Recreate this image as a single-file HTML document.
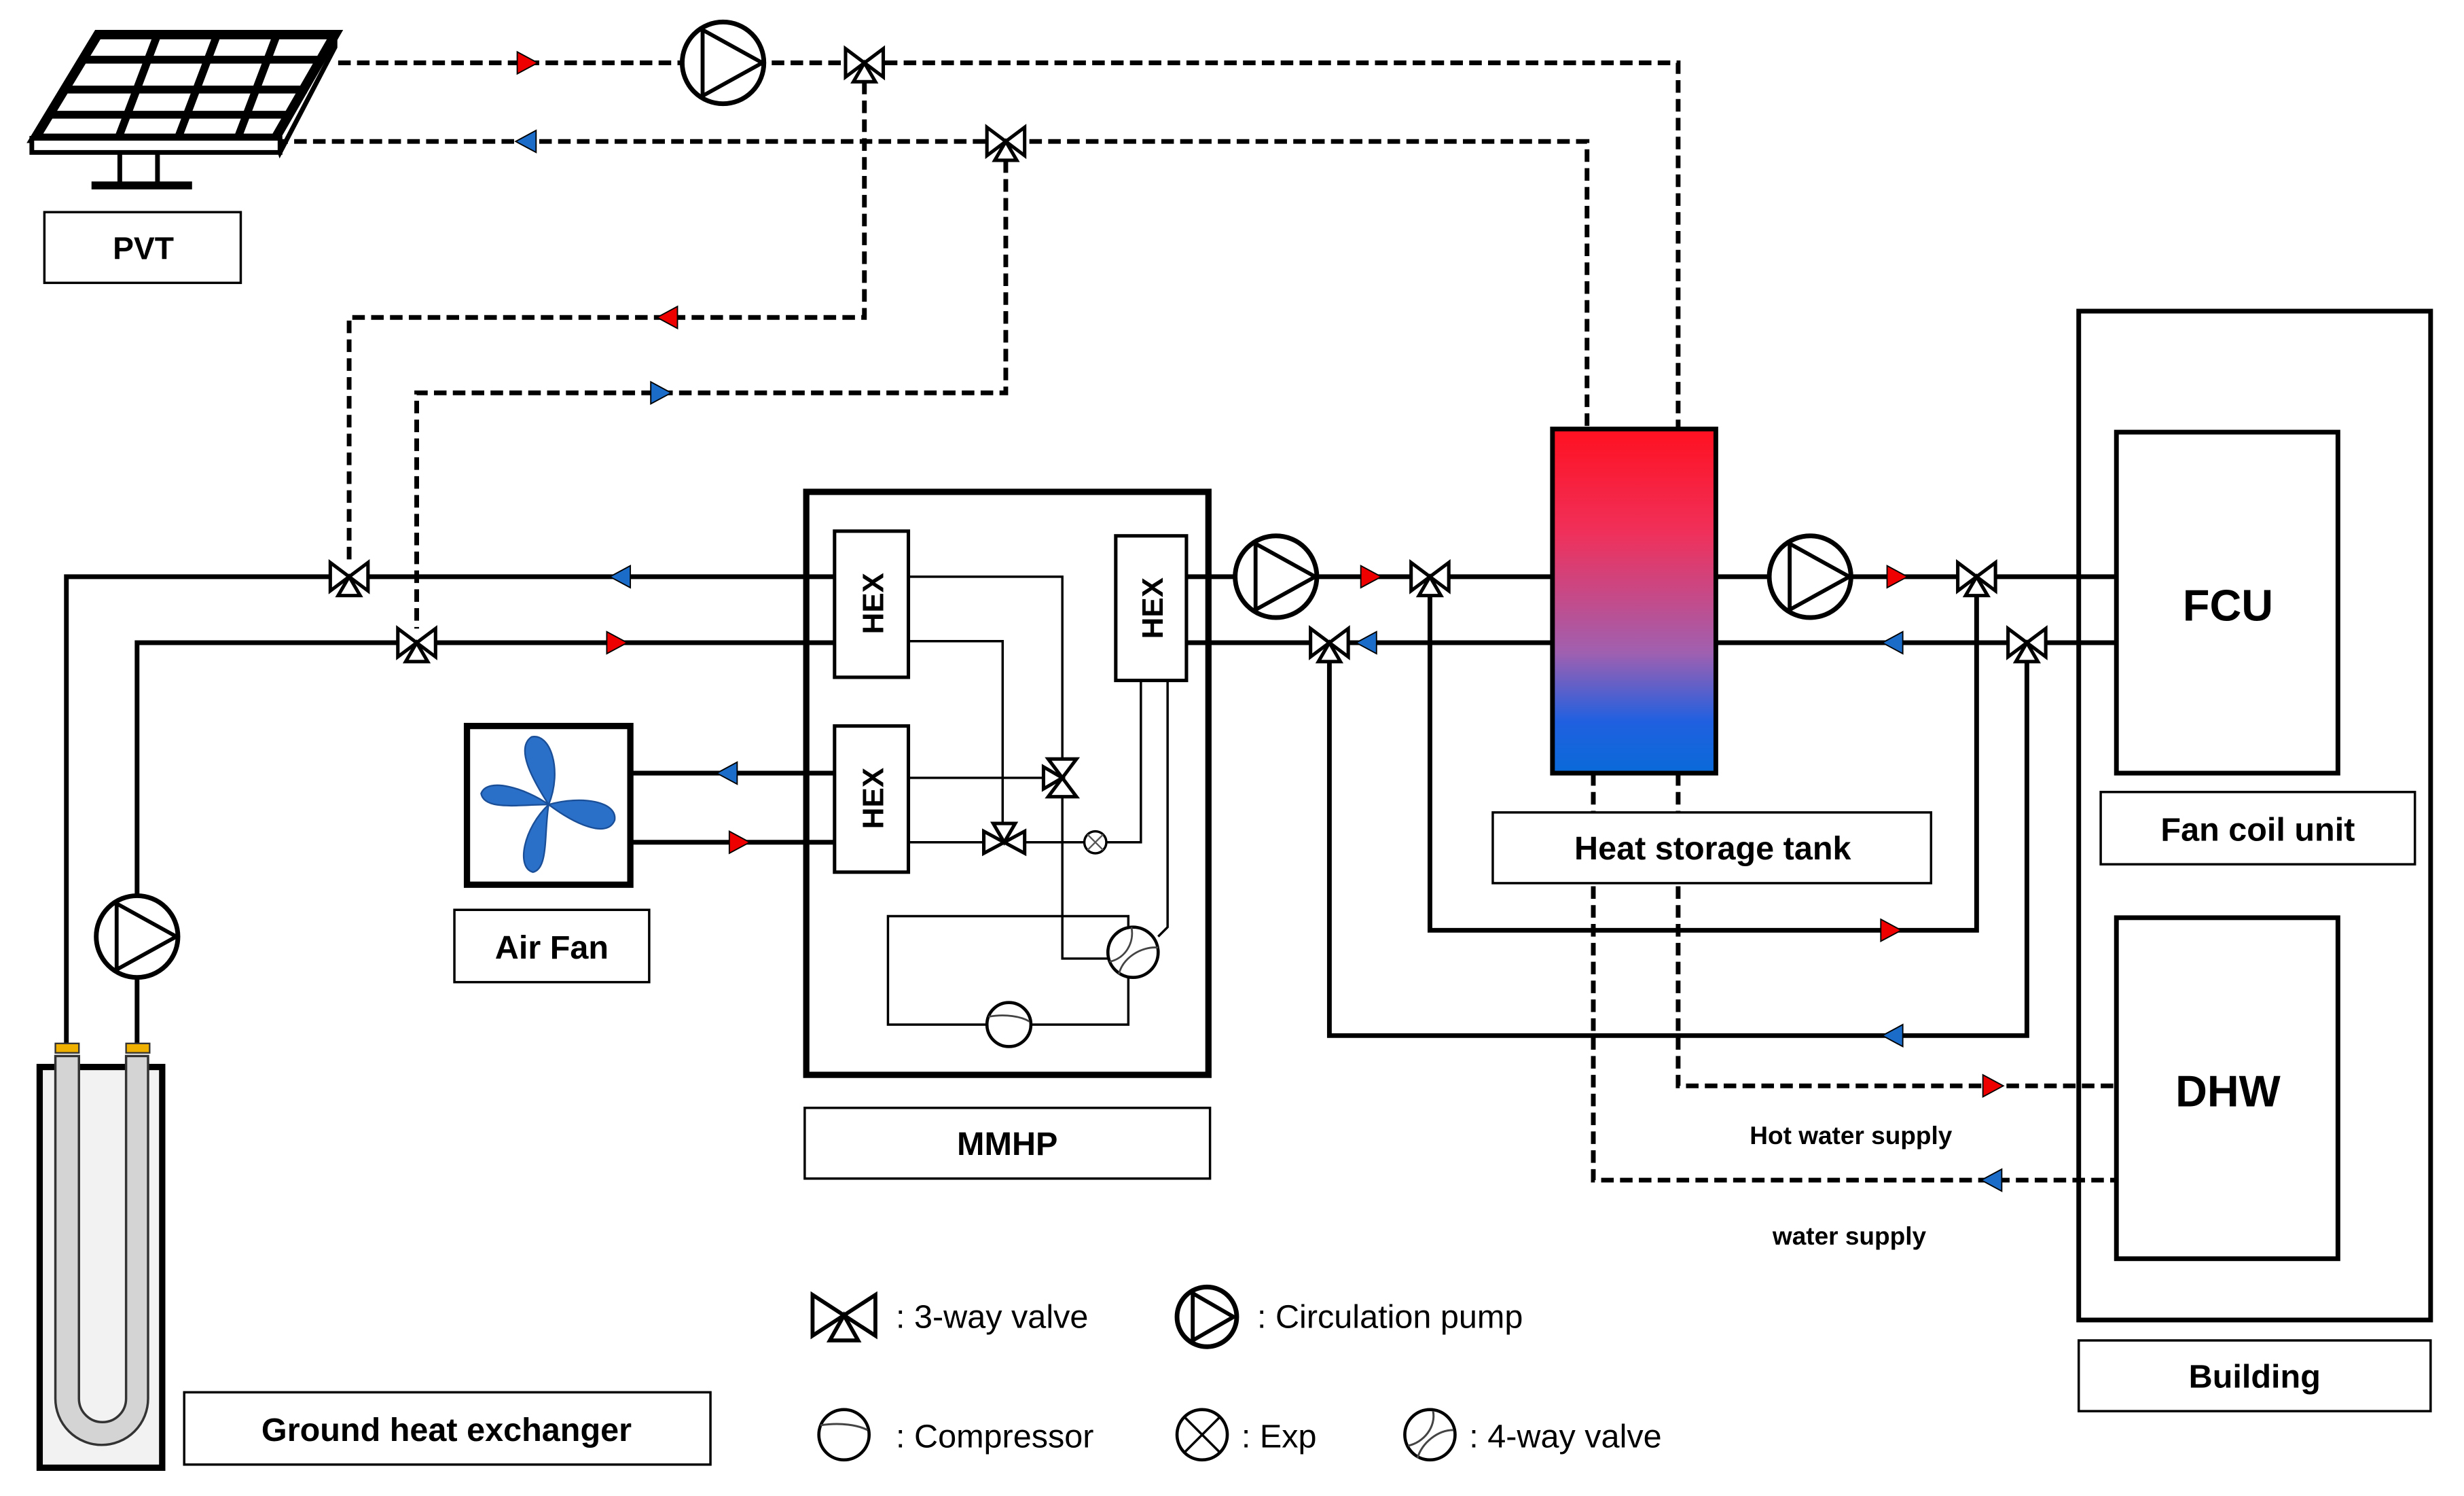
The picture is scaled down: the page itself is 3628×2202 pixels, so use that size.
<!DOCTYPE html>
<html><head><meta charset="utf-8"><style>
html,body{margin:0;padding:0;background:#fff}
svg{display:block}
text{font-family:"Liberation Sans",sans-serif}
</style></head><body>
<svg width="3628" height="2202" viewBox="0 0 1568 952" xmlns="http://www.w3.org/2000/svg">
<defs>
<linearGradient id="tg" x1="0" y1="0" x2="0" y2="1">
<stop offset="0" stop-color="#ff1020"/><stop offset="0.3" stop-color="#f0305a"/><stop offset="0.65" stop-color="#a060b0"/><stop offset="0.85" stop-color="#2060e0"/><stop offset="1" stop-color="#0a6ad8"/>
</linearGradient>
<g id="v3"><path d="M-12,-9 L12,9 L12,-9 L-12,9 Z" fill="#fff" stroke="#000" stroke-width="2.2" stroke-linejoin="miter"/><path d="M0,0 L-7,12 L7,12 Z" fill="#fff" stroke="#000" stroke-width="2.2"/></g>
<g id="pump"><circle r="26" fill="#fff" stroke="#000" stroke-width="3"/><path d="M-13,-21 L-13,21 L25,0 Z" fill="none" stroke="#000" stroke-width="2.5"/></g>
<path id="ar" d="M-6,-7 L7,0 L-6,7 Z" stroke="#000" stroke-width="0.8"/>
</defs>

<!-- PVT dashed lines -->
<g fill="none" stroke="#000" stroke-width="3" stroke-dasharray="8,4">
<polyline points="215,40 1068,40 1068,272"/>
<polyline points="175,90 1010,90 1010,272"/>
<polyline points="550,52 550,202 222,202 222,356"/>
<polyline points="640,102 640,250 265,250 265,400"/>
<polyline points="1068,492 1068,691 1347,691"/>
<polyline points="1014,492 1014,751 1347,751"/>
</g>
<!-- PVT panel -->
<g stroke="#000" fill="none">
<path d="M62,22 L213,22 L175,88 L22,88 Z" stroke-width="6" fill="#fff"/>
<path d="M213,22 L213,30 L178,97 L175,88" stroke-width="3"/>
<rect x="20" y="88" width="158" height="9" fill="#fff" stroke-width="3"/>
<path d="M52,38 L205,38 M42,57 L195,57 M32,73 L185,73" stroke-width="5"/>
<path d="M100,22 L75,88 M138,22 L113,88 M176,22 L151,88" stroke-width="5"/>
<path d="M76,97 L76,117 M100,97 L100,117" stroke-width="3"/>
<path d="M58,118 L122,118" stroke-width="5"/>
</g>
<rect x="28" y="135" width="125" height="45" fill="#fff" stroke="#000" stroke-width="1.5"/>
<text x="91" y="165" font-size="20" font-weight="bold" text-anchor="middle">PVT</text>
<use href="#ar" transform="translate(335,40)" fill="#e00"/>
<use href="#ar" transform="translate(335,90) rotate(180)" fill="#1a6cc8"/>
<use href="#ar" transform="translate(425,202) rotate(180)" fill="#e00"/>
<use href="#ar" transform="translate(420,250)" fill="#1a6cc8"/>
<use href="#pump" transform="translate(460,40)"/>
<use href="#v3" transform="translate(550,40)"/>
<use href="#v3" transform="translate(640,90)"/>

<!-- solid pipes -->
<g fill="none" stroke="#000" stroke-width="3">
<polyline points="42,665 42,367 531,367"/>
<polyline points="87,665 87,409 531,409"/>
<line x1="401" y1="492" x2="531" y2="492"/>
<line x1="401" y1="536" x2="531" y2="536"/>
<line x1="755" y1="367" x2="988" y2="367"/>
<line x1="755" y1="409" x2="988" y2="409"/>
<line x1="1092" y1="367" x2="1347" y2="367"/>
<line x1="1092" y1="409" x2="1347" y2="409"/>
<polyline points="910,377 910,592 1258,592 1258,377"/>
<polyline points="846,419 846,659 1290,659 1290,419"/>
</g>
<use href="#v3" transform="translate(222,367)"/>
<use href="#v3" transform="translate(265,409)"/>
<use href="#ar" transform="translate(395,367) rotate(180)" fill="#1a6cc8"/>
<use href="#ar" transform="translate(392,409)" fill="#e00"/>
<use href="#ar" transform="translate(463,492) rotate(180)" fill="#1a6cc8"/>
<use href="#ar" transform="translate(470,536)" fill="#e00"/>
<use href="#pump" transform="translate(87,596)"/>

<!-- GHX -->
<rect x="25" y="679" width="78" height="255" fill="#f2f2f2" stroke="#000" stroke-width="4"/>
<path d="M35,672 L35,890 A29,29 0 0 0 94,890 L94,672 L80,672 L80,890 A15,15 0 0 1 50,890 L50,672 Z" fill="#d4d4d4" stroke="#333" stroke-width="1.5"/>
<rect x="35" y="664" width="15" height="6" fill="#f0b000" stroke="#333" stroke-width="1"/>
<rect x="80" y="664" width="15" height="6" fill="#f0b000" stroke="#333" stroke-width="1"/>
<rect x="117" y="886" width="335" height="46" fill="#fff" stroke="#000" stroke-width="1.5"/>
<text x="284" y="917" font-size="21" font-weight="bold" text-anchor="middle">Ground heat exchanger</text>

<!-- Air fan -->
<rect x="297" y="462" width="104" height="101" fill="#fff" stroke="#000" stroke-width="4"/>
<g fill="#2a6fc8" stroke="#1a4f98" stroke-width="1">
<path d="M349,512 C338,495 328,476 338,469 C350,466 358,490 349,512 Z"/>
<path d="M349,512 C370,506 393,510 391,522 C386,534 365,524 349,512 Z"/>
<path d="M349,512 C346,530 349,553 339,555 C328,552 333,527 349,512 Z"/>
<path d="M349,512 C330,512 308,516 306,505 C310,494 335,502 349,512 Z"/>
</g>
<rect x="289" y="579" width="124" height="46" fill="#fff" stroke="#000" stroke-width="1.5"/>
<text x="351" y="610" font-size="21" font-weight="bold" text-anchor="middle">Air Fan</text>

<!-- MMHP -->
<rect x="513" y="313" width="256" height="371" fill="none" stroke="#000" stroke-width="4"/>
<g fill="none" stroke="#000" stroke-width="1.5">
<polyline points="578,367 676,367 676,484"/>
<polyline points="578,408 638,408 638,524"/>
<line x1="578" y1="495" x2="664" y2="495"/>
<line x1="578" y1="536" x2="626" y2="536"/>
<polyline points="652,536 690,536"/>
<polyline points="704,536 726,536 726,433"/>
<polyline points="676,507 676,610 705,610"/>
<polyline points="743,433 743,590 737,596"/>
<polyline points="718,620 718,652 656,652"/>
<polyline points="628,652 565,652 565,583 718,583 718,590"/>
</g>
<g fill="#fff" stroke="#000" stroke-width="2.2">
<path d="M667,483 L685,507 L667,507 L685,483 Z"/><path d="M676,495 L664,488 L664,502 Z"/>
<path d="M626,529 L652,543 L652,529 L626,543 Z"/><path d="M639,536 L632,524 L646,524 Z"/>
</g>
<circle cx="697" cy="536" r="7" fill="#fff" stroke="#000" stroke-width="1.5"/>
<path d="M692,531 L702,541 M702,531 L692,541" stroke="#555" stroke-width="1"/>
<circle cx="721" cy="606" r="16" fill="#fff" stroke="#000" stroke-width="2"/>
<path d="M706,612 C716,610 722,600 720,590 M712,620 C714,610 726,602 737,603" fill="none" stroke="#444" stroke-width="1.2"/>
<circle cx="642" cy="652" r="14" fill="#fff" stroke="#000" stroke-width="2"/>
<path d="M629,647 C640,645 650,647 655,650" fill="none" stroke="#444" stroke-width="1.2"/>
<g fill="#fff" stroke="#000" stroke-width="2.2">
<rect x="531" y="338" width="47" height="93"/>
<rect x="531" y="462" width="47" height="93"/>
<rect x="710" y="341" width="45" height="92"/>
</g>
<g font-size="19" font-weight="bold" text-anchor="middle">
<text transform="translate(562,384) rotate(-90)">HEX</text>
<text transform="translate(562,508) rotate(-90)">HEX</text>
<text transform="translate(740,387) rotate(-90)">HEX</text>
</g>
<rect x="512" y="705" width="258" height="45" fill="#fff" stroke="#000" stroke-width="1.5"/>
<text x="641" y="735" font-size="21" font-weight="bold" text-anchor="middle">MMHP</text>

<!-- right side components -->
<use href="#pump" transform="translate(812,367)"/>
<use href="#pump" transform="translate(1152,367)"/>
<use href="#ar" transform="translate(872,367)" fill="#e00"/>
<use href="#ar" transform="translate(870,409) rotate(180)" fill="#1a6cc8"/>
<use href="#ar" transform="translate(1207,367)" fill="#e00"/>
<use href="#ar" transform="translate(1205,409) rotate(180)" fill="#1a6cc8"/>
<use href="#ar" transform="translate(1203,592)" fill="#e00"/>
<use href="#ar" transform="translate(1205,659) rotate(180)" fill="#1a6cc8"/>
<use href="#ar" transform="translate(1268,691)" fill="#e00"/>
<use href="#ar" transform="translate(1268,751) rotate(180)" fill="#1a6cc8"/>
<use href="#v3" transform="translate(910,367)"/>
<use href="#v3" transform="translate(846,409)"/>
<use href="#v3" transform="translate(1258,367)"/>
<use href="#v3" transform="translate(1290,409)"/>

<rect x="988" y="273" width="104" height="219" fill="url(#tg)" stroke="#000" stroke-width="3"/>
<rect x="950" y="517" width="279" height="45" fill="#fff" stroke="#000" stroke-width="1.5"/>
<text x="1090" y="547" font-size="21" font-weight="bold" text-anchor="middle">Heat storage tank</text>
<text x="1178" y="728" font-size="16" font-weight="bold" text-anchor="middle">Hot water supply</text>
<text x="1177" y="792" font-size="16" font-weight="bold" text-anchor="middle">water supply</text>

<!-- Building -->
<rect x="1323" y="198" width="224" height="642" fill="none" stroke="#000" stroke-width="3"/>
<rect x="1347" y="275" width="141" height="217" fill="#fff" stroke="#000" stroke-width="3"/>
<text x="1418" y="395" font-size="28" font-weight="bold" text-anchor="middle">FCU</text>
<rect x="1337" y="504" width="200" height="46" fill="#fff" stroke="#000" stroke-width="1.5"/>
<text x="1437" y="535" font-size="21" font-weight="bold" text-anchor="middle">Fan coil unit</text>
<rect x="1347" y="584" width="141" height="217" fill="#fff" stroke="#000" stroke-width="3"/>
<text x="1418" y="704" font-size="28" font-weight="bold" text-anchor="middle">DHW</text>
<rect x="1323" y="853" width="224" height="45" fill="#fff" stroke="#000" stroke-width="1.5"/>
<text x="1435" y="883" font-size="21" font-weight="bold" text-anchor="middle">Building</text>

<!-- legend -->
<path d="M517,824 L557,850 L557,824 L517,850 Z" fill="#fff" stroke="#000" stroke-width="2.5"/>
<path d="M537,837 L528,853 L546,853 Z" fill="#fff" stroke="#000" stroke-width="2.5"/>
<text x="570" y="845" font-size="21">: 3-way valve</text>
<circle cx="768" cy="838" r="19" fill="#fff" stroke="#000" stroke-width="3"/>
<path d="M759,823 L759,853 L785,838 Z" fill="none" stroke="#000" stroke-width="2.5"/>
<text x="800" y="845" font-size="21">: Circulation pump</text>
<circle cx="537" cy="913" r="16" fill="#fff" stroke="#000" stroke-width="2"/>
<path d="M522,907 C535,905 546,907 552,910" fill="none" stroke="#444" stroke-width="1.3"/>
<text x="570" y="921" font-size="21">: Compressor</text>
<circle cx="765" cy="913" r="16" fill="#fff" stroke="#000" stroke-width="2"/>
<path d="M754,902 L776,924 M776,902 L754,924" stroke="#000" stroke-width="1.5"/>
<text x="790" y="921" font-size="21">: Exp</text>
<circle cx="910" cy="913" r="16" fill="#fff" stroke="#000" stroke-width="2"/>
<path d="M896,920 C906,918 914,908 912,898 M902,928 C905,918 915,910 925,910" fill="none" stroke="#444" stroke-width="1.3"/>
<text x="935" y="921" font-size="21">: 4-way valve</text>
</svg>
</body></html>
